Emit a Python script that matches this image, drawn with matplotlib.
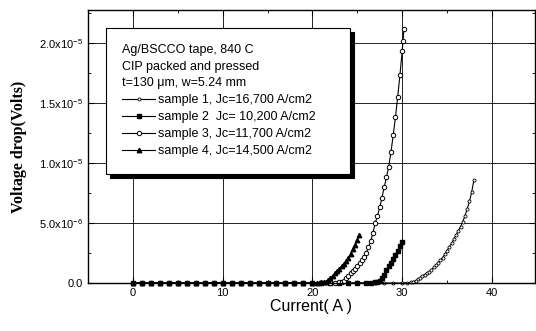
import matplotlib
matplotlib.use("Agg")
import matplotlib.pyplot as plt
from matplotlib.ticker import FixedLocator, MultipleLocator

plt.rcParams['font.family'] = ['Liberation Sans', 'DejaVu Sans']
plt.rcParams['mathtext.fontset'] = 'custom'
plt.rcParams['mathtext.rm'] = 'Liberation Sans'

# sample 1 (small dots)
cur1 = [0, 1, 2, 3, 4, 5, 6, 7, 8, 9, 10, 11, 12, 13, 14, 15, 16, 17, 18, 19, 20, 21, 22,
        23, 24, 25, 26, 27, 28, 29, 30, 30.5, 31.0, 31.25, 31.5, 31.75, 32.0, 32.25, 32.5,
        32.75, 33.0, 33.25, 33.5, 33.75, 34.0, 34.25, 34.5, 34.75, 35.0, 35.25, 35.5, 35.75,
        36.0, 36.25, 36.5, 36.75, 37.0, 37.25, 37.5, 37.75, 38.0]
v1 = [0, 0, 0, 0, 0, 0, 0, 0, 0, 0, 0, 0, 0, 0, 0, 0, 0, 0, 0, 0, 0, 0, 0,
      0, 0, 0, 0, 0, 0, 0, 0, 0.02e-6, 0.05e-6, 0.12e-6, 0.2e-6, 0.32e-6, 0.45e-6, 0.58e-6,
      0.7e-6, 0.82e-6, 0.95e-6, 1.1e-6, 1.3e-6, 1.5e-6, 1.7e-6, 1.9e-6, 2.1e-6, 2.4e-6,
      2.7e-6, 3.0e-6, 3.3e-6, 3.65e-6, 4.0e-6, 4.35e-6, 4.7e-6, 5.1e-6, 5.6e-6, 6.2e-6,
      6.8e-6, 7.6e-6, 8.6e-6]
# sample 2 (filled squares)
cur2 = [0, 1, 2, 3, 4, 5, 6, 7, 8, 9, 10, 11, 12, 13, 14, 15, 16, 17, 18, 19, 20, 21, 22,
        23, 24, 25, 26, 26.5, 27.0, 27.25, 27.5, 27.75, 28.0, 28.25, 28.5, 28.75, 29.0,
        29.25, 29.5, 29.75, 30.0]
v2 = [0, 0, 0, 0, 0, 0, 0, 0, 0, 0, 0, 0, 0, 0, 0, 0, 0, 0, 0, 0, 0, 0, 0,
      0, 0, 0, 0, 0.02e-6, 0.05e-6, 0.1e-6, 0.2e-6, 0.45e-6, 0.7e-6, 1.05e-6, 1.4e-6,
      1.7e-6, 2.0e-6, 2.35e-6, 2.7e-6, 3.05e-6, 3.4e-6]
# sample 3 (open circles)
cur3 = [0, 1, 2, 3, 4, 5, 6, 7, 8, 9, 10, 11, 12, 13, 14, 15, 16, 17, 18, 19, 20, 21, 22,
        22.5, 23.0, 23.25, 23.5, 23.75, 24.0, 24.25, 24.5, 24.75, 25.0, 25.25, 25.5, 25.75,
        26.0, 26.25, 26.5, 26.75, 27.0, 27.25, 27.5, 27.75, 28.0, 28.25, 28.5, 28.75, 29.0,
        29.25, 29.5, 29.75, 30.0, 30.1, 30.2]
v3 = [0, 0, 0, 0, 0, 0, 0, 0, 0, 0, 0, 0, 0, 0, 0, 0, 0, 0, 0, 0, 0, 0, 0,
      0.02e-6, 0.05e-6, 0.1e-6, 0.2e-6, 0.4e-6, 0.6e-6, 0.8e-6, 1.0e-6, 1.2e-6, 1.4e-6,
      1.65e-6, 1.9e-6, 2.2e-6, 2.5e-6, 3.0e-6, 3.5e-6, 4.2e-6, 5.0e-6, 5.6e-6, 6.3e-6,
      7.1e-6, 8.0e-6, 8.8e-6, 9.7e-6, 10.9e-6, 12.3e-6, 13.8e-6, 15.5e-6, 17.3e-6,
      19.3e-6, 20.2e-6, 21.2e-6]
# sample 4 (filled triangles)
cur4 = [0, 1, 2, 3, 4, 5, 6, 7, 8, 9, 10, 11, 12, 13, 14, 15, 16, 17, 18, 19, 20, 20.5,
        21.0, 21.25, 21.5, 21.75, 22.0, 22.25, 22.5, 22.75, 23.0, 23.25, 23.5, 23.75, 24.0,
        24.25, 24.5, 24.75, 25.0, 25.2]
v4 = [0, 0, 0, 0, 0, 0, 0, 0, 0, 0, 0, 0, 0, 0, 0, 0, 0, 0, 0, 0, 0, 0.02e-6,
      0.05e-6, 0.08e-6, 0.1e-6, 0.25e-6, 0.4e-6, 0.6e-6, 0.8e-6, 1.0e-6, 1.2e-6, 1.4e-6,
      1.6e-6, 1.85e-6, 2.1e-6, 2.45e-6, 2.8e-6, 3.2e-6, 3.6e-6, 4.0e-6]

labels = ["sample 1, Jc=16,700 A/cm2", "sample 2  Jc= 10,200 A/cm2",
          "sample 3, Jc=11,700 A/cm2", "sample 4, Jc=14,500 A/cm2"]
yticks = [0, 5e-6, 1e-5, 1.5e-5, 2e-5]
ytick_labels = ["0.0", "5.0x10$^{-6}$", "1.0x10$^{-5}$", "1.5x10$^{-5}$", "2.0x10$^{-5}$"]
legend_title = "Ag/BSCCO tape, 840 C\nCIP packed and pressed\nt=130 \u03bcm, w=5.24 mm"

fig = plt.figure(figsize=(5.36, 3.31), dpi=100)
ax = fig.add_axes([88/536, 1-283/331, (535-88)/536, (283-10)/331])

ax.plot(cur1, v1, color='black', lw=0.8, marker='o', ms=2.2, mfc='white', mec='black', mew=0.6,
        label=labels[0], clip_on=False)
ax.plot(cur2, v2, color='black', lw=0.8, marker='s', ms=3, mfc='black', mec='black',
        label=labels[1], clip_on=False)
ax.plot(cur3, v3, color='black', lw=0.8, marker='o', ms=3.2, mfc='white', mec='black', mew=0.7,
        label=labels[2], clip_on=False)
ax.plot(cur4, v4, color='black', lw=0.8, marker='^', ms=3.2, mfc='black', mec='black',
        label=labels[3], clip_on=False)

ax.set_xlim(-5, 44.8)
ax.set_ylim(0, 2.275e-5)
ax.xaxis.set_major_locator(FixedLocator([0, 10, 20, 30, 40]))
ax.xaxis.set_minor_locator(MultipleLocator(5))
ax.yaxis.set_major_locator(FixedLocator(yticks))
ax.yaxis.set_minor_locator(MultipleLocator(2.5e-6))
ax.set_yticklabels(ytick_labels)
ax.tick_params(which='both', direction='in', top=True, right=True, labelsize=8)
ax.tick_params(which='major', length=4)
ax.tick_params(which='minor', length=2)
ax.grid(True, which='major', color='black', lw=0.6)
for s in ax.spines.values():
    s.set_linewidth(1.0)

ax.set_xlabel("Current( A )", fontsize=11.5, labelpad=1)
ax.set_ylabel("Voltage drop(Volts)", fontsize=11.5, family=['Liberation Serif', 'DejaVu Serif'],
              fontweight='bold', labelpad=9)

leg = ax.legend(loc='upper left',
                bbox_to_anchor=(106/536, 1-172/331, (350-106)/536, (172-28)/331),
                bbox_transform=fig.transFigure, borderaxespad=0, mode='expand',
                title=legend_title, alignment='left', fontsize=9, title_fontsize=9,
                handlelength=2.6, handletextpad=0.3, labelspacing=0.4, borderpad=1.3,
                fancybox=False, edgecolor='black', framealpha=1,
                shadow={'color': 'black', 'alpha': 1, 'ox': 3, 'oy': -3})
leg.get_title().set_linespacing(1.5)
leg.get_frame().set_linewidth(0.8)

fig.savefig('out.png', dpi=100)
